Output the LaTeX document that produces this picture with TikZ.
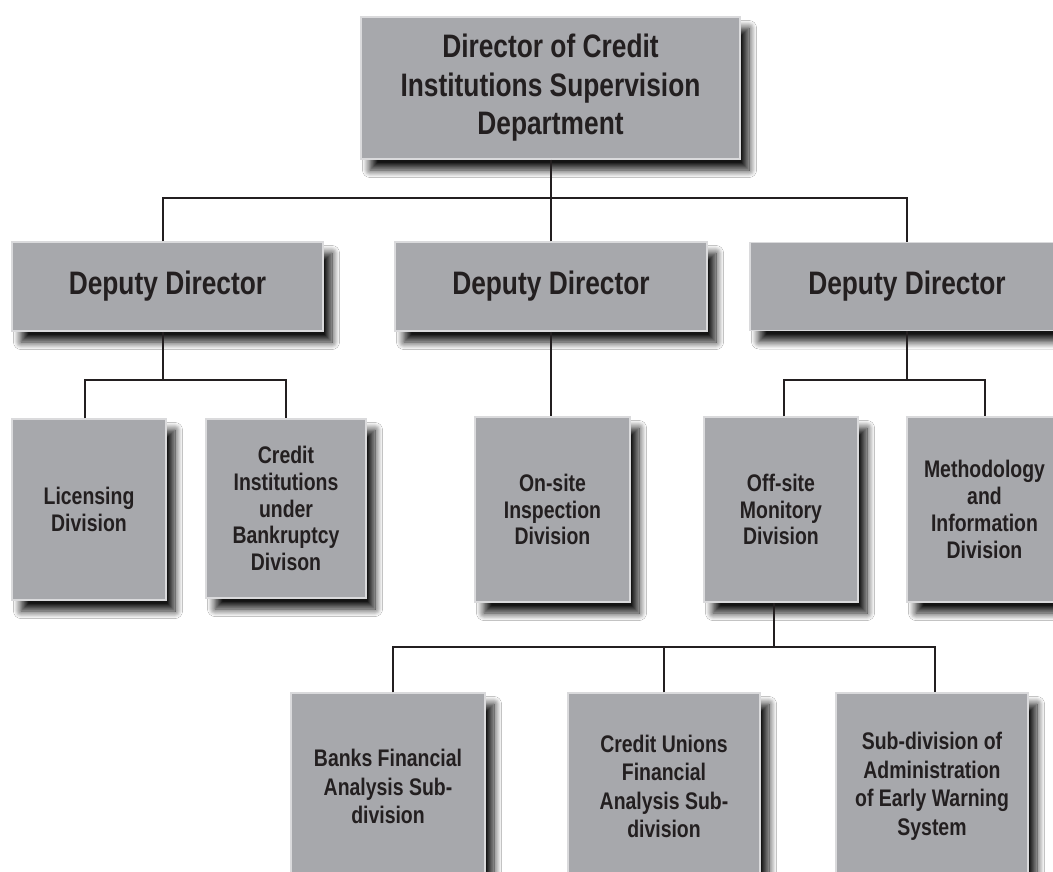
\documentclass[tikz,border=0pt]{standalone}
\usepackage{fontspec}
\setmainfont{Liberation Sans}[FakeStretch=0.81]
\usetikzlibrary{shadows.blur}
\definecolor{boxfill}{RGB}{167,168,172}
\definecolor{boxline}{RGB}{218,218,220}
\definecolor{ink}{RGB}{35,31,32}
\tikzset{
  orgbox/.style={draw=boxline, line width=1.5pt, fill=boxfill, inner sep=0pt,
    align=center, text=ink,
    blur shadow={shadow xshift=9pt, shadow yshift=-11pt, shadow blur radius=7.5pt, shadow blur steps=12, shadow opacity=92}},
  bigtext/.style={font=\fontsize{32.5}{38.5}\selectfont\bfseries},
  smalltext/.style={font=\fontsize{24}{26.8}\selectfont\bfseries},
  lowtext/.style={font=\fontsize{24}{28.5}\selectfont\bfseries},
  conn/.style={draw=ink, line width=2pt},
}
\begin{document}
\begin{tikzpicture}[x=1pt,y=-1pt]
\useasboundingbox (0,0) rectangle (1053,872);
\clip (0,0) rectangle (1053,872);
\fill[white] (0,0) rectangle (1053,872);

% top
\node[orgbox, bigtext, minimum width=379pt, minimum height=142pt] (top) at (550.5,88)
  {Director of Credit\\Institutions Supervision\\Department};

% deputy directors
\node[orgbox, bigtext, minimum width=311pt, minimum height=89pt] (ddL) at (167.5,286.5) {Deputy Director};
\node[orgbox, bigtext, minimum width=312pt, minimum height=89pt] (ddM) at (551,286.5) {Deputy Director};
\node[orgbox, bigtext, minimum width=314pt, minimum height=88pt] (ddR) at (907,286.5) {Deputy Director};

% divisions
\node[orgbox, smalltext, minimum width=154pt, minimum height=181pt] (lic) at (89,509.5) {Licensing\\Division};
\node[orgbox, smalltext, minimum width=160pt, minimum height=179pt] (cib) at (286,508.5) {Credit\\Institutions\\under\\Bankruptcy\\Divison};
\node[orgbox, smalltext, minimum width=155pt, minimum height=185pt] (ons) at (552.5,509.5) {On-site\\Inspection\\Division};
\node[orgbox, smalltext, minimum width=154pt, minimum height=185pt] (off) at (781,509.5) {Off-site\\Monitory\\Division};
\node[orgbox, smalltext, minimum width=155pt, minimum height=185pt] (met) at (984.5,509.5) {Methodology\\and\\Information\\Division};

% sub-divisions
\node[orgbox, lowtext, minimum width=194pt, minimum height=187pt] (banks) at (388,786.5) {Banks Financial\\Analysis Sub-\\division};
\node[orgbox, lowtext, minimum width=192pt, minimum height=187pt] (cu) at (664,786.5) {Credit Unions\\Financial\\Analysis Sub-\\division};
\node[orgbox, lowtext, minimum width=192pt, minimum height=187pt] (sub) at (932,786.5) {Sub-division of\\Administration\\of Early Warning\\System};

% connectors
\coordinate (bus1) at (0,198);
\coordinate (bus2) at (0,380);
\coordinate (bus3) at (0,647);

\draw[conn] (top.south) -- (top.south |- bus1);
\draw[conn] ([xshift=-4.5pt]ddL.north) |- (ddR.north |- bus1) -- (ddR.north);
\draw[conn] (ddM.north) -- (ddM.north |- bus1);

\draw[conn] ([xshift=-4.5pt]ddL.south) -- ([xshift=-4.5pt]ddL.south |- bus2);
\draw[conn] ([xshift=-4pt]lic.north) |- (cib.north |- bus2) -- (cib.north);

\draw[conn] (ddM.south) -- (ddM.south |- ons.north);

\draw[conn] (ddR.south) -- (ddR.south |- bus2);
\draw[conn] ([xshift=3pt]off.north) |- (met.north |- bus2) -- (met.north);

\draw[conn] ([xshift=-7pt]off.south) -- ([xshift=-7pt]off.south |- bus3);
\draw[conn] ([xshift=5pt]banks.north) |- ([xshift=3pt]sub.north |- bus3) -- ([xshift=3pt]sub.north);
\draw[conn] (cu.north) -- (cu.north |- bus3);
\end{tikzpicture}
\end{document}
